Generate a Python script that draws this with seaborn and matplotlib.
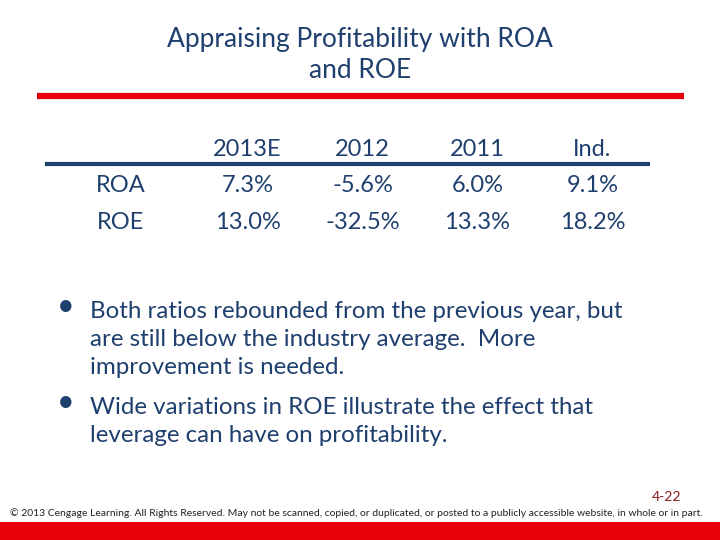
import numpy as np
import pandas as pd
import matplotlib
matplotlib.use("Agg")
import matplotlib.pyplot as plt
from matplotlib.colors import ListedColormap
import seaborn as sns

# dados da tabela
colunas = ['2013E', '2012', '2011', 'Ind.']
linhas = ['ROA', 'ROE']
roa = [7.3, -5.6, 6.0, 9.1]
roe = [13.0, -32.5, 13.3, 18.2]

titulo = ['Appraising Profitability with ROA', 'and ROE']
bullets = [
    ['Both ratios rebounded from the previous year, but',
     'are still below the industry average.  More',
     'improvement is needed.'],
    ['Wide variations in ROE illustrate the effect that',
     'leverage can have on profitability.'],
]
rodape = ('\u00a9 2013 Cengage Learning. All Rights Reserved. May not be scanned, copied, or duplicated, '
          'or posted to a publicly accessible website, in whole or in part.')
pagina = '4-22'

azul = '#1F3F6E'
vermelho = '#E8000B'

sns.set_style('white')
plt.rcParams['font.family'] = ['Lato', 'DejaVu Sans']

fig = plt.figure(figsize=(7.2, 5.4), dpi=100)

# fundo em coordenadas de pixel
bg = fig.add_axes([0, 0, 1, 1])
bg.set_xlim(0, 720)
bg.set_ylim(540, 0)
bg.axis('off')

for i, t in enumerate(titulo):
    bg.text(360, 39 + i * 31, t, ha='center', va='center', fontsize=19, color=azul)

bg.plot([37, 684], [96, 96], color=vermelho, lw=4.5, solid_capstyle='butt')
bg.plot([45, 650], [164, 164], color=azul, lw=3, solid_capstyle='butt')

y = 312
for bloco in bullets:
    bg.text(66, y - 6, '\u2022', ha='center', va='center', fontsize=22, color=azul)
    for linha in bloco:
        bg.text(90, y, linha, ha='left', va='center', fontsize=17.4, color=azul)
        y += 28
    y += 12

bg.text(681, 497, pagina, ha='right', va='center', fontsize=10, color='#8B1A1A')
bg.text(356, 513, rodape, ha='center', va='center', fontsize=7.5, color='#222222')
bg.axhspan(522, 540, color=vermelho, lw=0)

# tabela como heatmap
df = pd.DataFrame([roa, roe], index=linhas, columns=colunas)
rotulos = df.apply(lambda s: s.map(lambda v: f'{v:.1f}%'))

ax = fig.add_axes([190 / 720, 1 - 241 / 540, 460 / 720, 74 / 540])
sns.heatmap(df, annot=rotulos, fmt='', cmap=ListedColormap(['white']), cbar=False,
            ax=ax, annot_kws={'fontsize': 17, 'color': azul})
ax.xaxis.tick_top()
ax.tick_params(axis='both', length=0, labelsize=17, labelcolor=azul)
ax.tick_params(axis='x', pad=5)
ax.tick_params(axis='y', pad=50)
for lab in ax.get_yticklabels():
    lab.set_rotation(0)
    lab.set_ha('center')
ax.set_xlabel('')
ax.set_ylabel('')

fig.savefig('out.png', dpi=100)
